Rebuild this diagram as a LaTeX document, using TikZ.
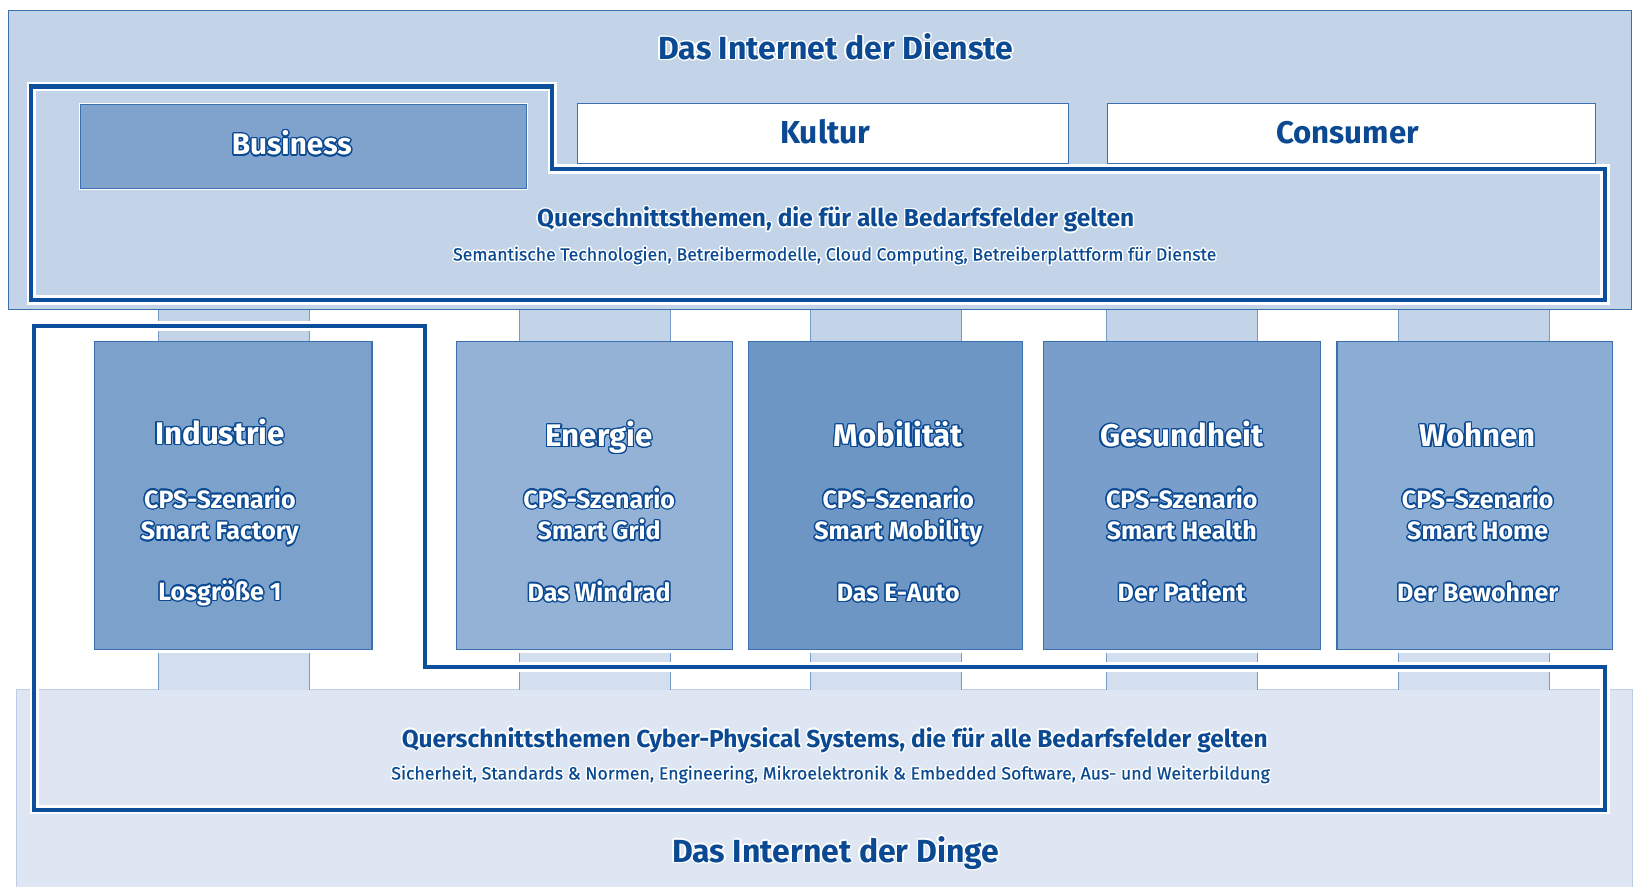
\documentclass[tikz,border=0pt]{standalone}
\usepackage{fontspec}
\setmainfont{Fira Sans}
\newfontfamily\medfont{Fira Sans}[FakeBold=0.6]
\usepackage{contour}
\contourlength{1.3pt}
\definecolor{dblue}{HTML}{0B4A93}
\definecolor{lineblue}{HTML}{0B4F9C}
\definecolor{thinblue}{HTML}{3C6FAE}
\definecolor{topfill}{HTML}{C3D4E8}
\definecolor{botfill}{HTML}{DDE6F2}
\definecolor{stubtop}{HTML}{C3D4E8}
\definecolor{stubbot}{HTML}{D3DFEE}
\definecolor{bizfill}{HTML}{7FA3CD}
\definecolor{indfill}{HTML}{7CA1CB}
\definecolor{enefill}{HTML}{93B2D6}
\definecolor{mobfill}{HTML}{6E96C5}
\definecolor{gesfill}{HTML}{7A9ECB}
\definecolor{wohfill}{HTML}{8BADD3}
\tikzset{
  halo/.style={draw=white, line width=9pt, line join=miter},
  thickline/.style={draw=lineblue, line width=4pt, line join=miter},
  box/.style={draw=thinblue, line width=1.2pt, inner sep=0pt, outer sep=0pt},
  stubside/.style={draw=thinblue!70, line width=0.8pt},
  bigtext/.style={font=\bfseries\fontsize{30.7}{34}\selectfont, text=dblue, inner sep=0pt, anchor=base},
  midtext/.style={font=\bfseries\fontsize{23.5}{26}\selectfont, text=dblue, inner sep=0pt, anchor=base},
  smalltext/.style={font=\medfont\fontsize{17}{19}\selectfont, text=dblue, inner sep=0pt, anchor=base},
  domtitle/.style={font=\bfseries\fontsize{30}{33}\selectfont, text=white, inner sep=0pt, anchor=base},
  domtext/.style={font=\bfseries\fontsize{24}{27}\selectfont, text=white, inner sep=0pt, anchor=base}
}
\begin{document}
\begin{tikzpicture}[x=1pt,y=-1pt]
\useasboundingbox (0,0) rectangle (1568,851);
\fill[white] (0,0) rectangle (1568,851);
% outer boxes
\draw[fill=topfill, draw=thinblue, line width=1pt] (8,10) rectangle (1566,297);
\draw[fill=botfill, draw=botfill!80!thinblue, line width=0.8pt] (16,662) rectangle (1566,860);
% stubs
\foreach \a in {152,498,778,1062,1342}{
  \fill[stubtop] (\a,297) rectangle (\a+145,328);
  \draw[stubside] (\a,297) -- (\a,328) (\a+145,297) -- (\a+145,328);
  \fill[stubbot] (\a,627) rectangle (\a+145,662);
  \draw[stubside] (\a,627) -- (\a,662) (\a+145,627) -- (\a+145,662);
}
% business group outline
\draw[halo] (30,83) -- (530,83) -- (530,162) -- (1540,162) -- (1540,288) -- (30,288) -- cycle;
\draw[thickline] (30,83) -- (530,83) -- (530,162) -- (1540,162) -- (1540,288) -- (30,288) -- cycle;
% business / kultur / consumer
\draw[white, line width=3pt] (77,100) rectangle (505,181);
\node[box, fill=bizfill, minimum width=428pt, minimum height=81pt] (business) at (291,140.5) {};
\node[box, fill=white, minimum width=471pt, minimum height=58pt] (kultur) at (789.5,128) {};
\node[box, fill=white, minimum width=468pt, minimum height=58pt] (consumer) at (1297,128) {};
\node[domtitle, font=\bfseries\fontsize{28.5}{32}\selectfont] (businesst) at (280,148.5) {\contour{dblue}{Business}};
\node[bigtext, font=\bfseries\fontsize{30.5}{34}\selectfont] (kulturt) at (792,137.5) {Kultur};
\node[bigtext, font=\bfseries\fontsize{30}{34}\selectfont] (consumert) at (1293,137.5) {Consumer};
\node[bigtext] (dienste) at (802,57) {\contour{white}{Das Internet der Dienste}};
\node[midtext] (qs1) at (802,217.5) {\contour{white}{Querschnittsthemen, die für alle Bedarfsfelder gelten}};
\node[smalltext] (qs1b) at (801,250) {\contour{white}{Semantische Technologien, Betreibermodelle, Cloud Computing, Betreiberplattform für Dienste}};
% lower group outline
\draw[halo] (33,313) -- (408,313) -- (408,640) -- (1540,640) -- (1540,777) -- (33,777) -- cycle;
\draw[thickline] (33,313) -- (408,313) -- (408,640) -- (1540,640) -- (1540,777) -- (33,777) -- cycle;
% domain boxes
\foreach \n/\l/\r/\tx/\dy/\col/\ti/\sm/\bo in {
  ind/91/357/211/-2/indfill/Industrie/Smart Factory/Losgröße 1,
  ene/438/703/575/0/enefill/Energie/Smart Grid/Das Windrad,
  mob/718/981/862/0/mobfill/Mobilität/Smart Mobility/Das E-Auto,
  ges/1001/1267/1134/0/gesfill/Gesundheit/Smart Health/Der Patient,
  woh/1283/1547/1418/0/wohfill/Wohnen/Smart Home/Der Bewohner}{
  \draw[box, fill=\col] (\l,328) rectangle (\r,623);
  \node[domtitle] (\n-title) at (\tx,428.5+\dy) {\contour{dblue}{\ti}};
  \node[domtext] (\n-cps) at (\tx,487.5) {\contour{dblue}{CPS-Szenario}};
  \node[domtext] (\n-smart) at (\tx,518) {\contour{dblue}{\sm}};
  \node[domtext] (\n-bottom) at (\tx,577+\dy/2) {\contour{dblue}{\bo}};
}
\node[midtext] (qs2) at (801,717) {\contour{white}{Querschnittsthemen Cyber-Physical Systems, die für alle Bedarfsfelder gelten}};
\node[smalltext] (qs2b) at (797,748) {\contour{white}{Sicherheit, Standards \& Normen, Engineering, Mikroelektronik \& Embedded Software, Aus- und Weiterbildung}};
\node[bigtext] (dinge) at (802,827.5) {\contour{white}{Das Internet der Dinge}};
\end{tikzpicture}
\end{document}
